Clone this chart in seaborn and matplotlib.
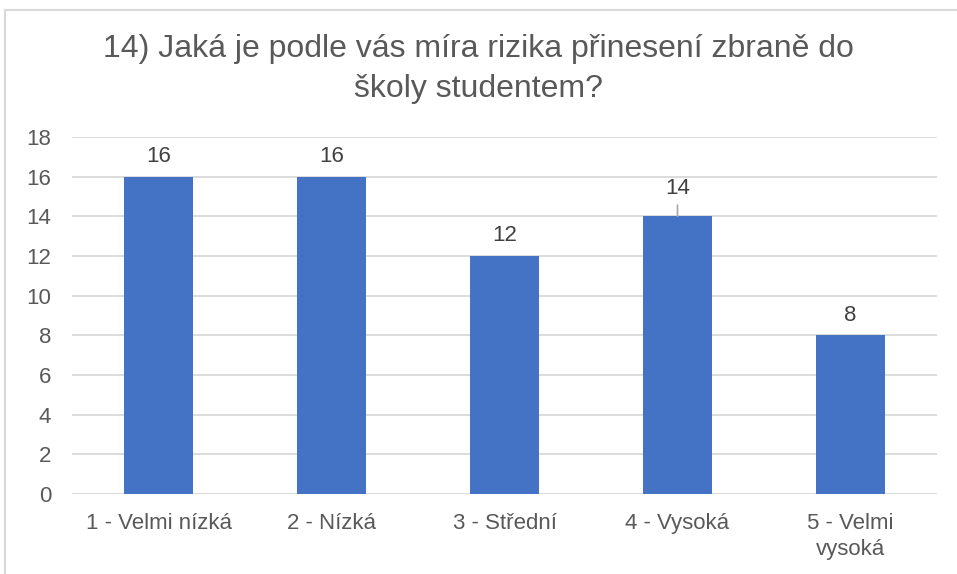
import matplotlib
matplotlib.use("Agg")
import matplotlib.pyplot as plt
import seaborn as sns
import pandas as pd
from matplotlib.patches import Rectangle

# --- Data ---
categories = ["1 - Velmi nízká", "2 - Nízká", "3 - Střední", "4 - Vysoká", "5 - Velmi\nvysoká"]
counts = [16, 16, 12, 14, 8]
title = "14) Jaká je podle vás míra rizika přinesení zbraně do\nškoly studentem?"

sns.set_theme(style="white")
plt.rcParams['font.family'] = ['Liberation Sans', 'DejaVu Sans']

df = pd.DataFrame({"kategorie": categories, "pocet": counts})

fig = plt.figure(figsize=(9.57, 5.74), dpi=100)
ax = fig.add_axes([72 / 957, 1 - 494 / 574, 865 / 957, 357 / 574])

sns.barplot(data=df, x="kategorie", y="pocet", color="#4472C4", width=0.40,
            saturation=1, linewidth=0, ax=ax, zorder=3)

ax.set_ylim(0, 18)
ax.set_xlim(-0.5, len(categories) - 0.5)
ax.set_yticks(range(0, 19, 2))
ax.yaxis.grid(True, color="#D9D9D9", linewidth=1.3, zorder=0)
ax.xaxis.grid(False)
for s in ax.spines.values():
    s.set_visible(False)
ax.tick_params(axis="both", length=0, labelsize=16, labelcolor="#595959")
ax.tick_params(axis="x", pad=14)
ax.tick_params(axis="y", pad=15)
for lbl in ax.get_xticklabels():
    lbl.set_linespacing(1.3)
ax.set_xlabel("")
ax.set_ylabel("")

# data labels (the 14 sits higher with a leader line, as in the original)
for i, v in enumerate(counts):
    if v == 14:
        ax.annotate(str(v), xy=(i, v), xytext=(0, 20), textcoords="offset points",
                    ha="center", va="center", fontsize=16, color="#404040",
                    arrowprops=dict(arrowstyle="-", color="#A6A6A6", lw=1.2,
                                    shrinkA=2, shrinkB=0))
    else:
        ax.annotate(str(v), xy=(i, v), xytext=(0, 14.5), textcoords="offset points",
                    ha="center", va="center", fontsize=16, color="#404040")

fig.text(0.5, 1 - 69 / 574, title, ha="center", va="center", fontsize=23,
         color="#595959", linespacing=1.45)

# chart border
fig.patches.append(Rectangle((5 / 957, -0.1), 1.2, 1 - 10 / 574 + 0.1,
                             transform=fig.transFigure, fill=False,
                             edgecolor="#D9D9D9", linewidth=1.5))

fig.savefig("out.png", dpi=100)
